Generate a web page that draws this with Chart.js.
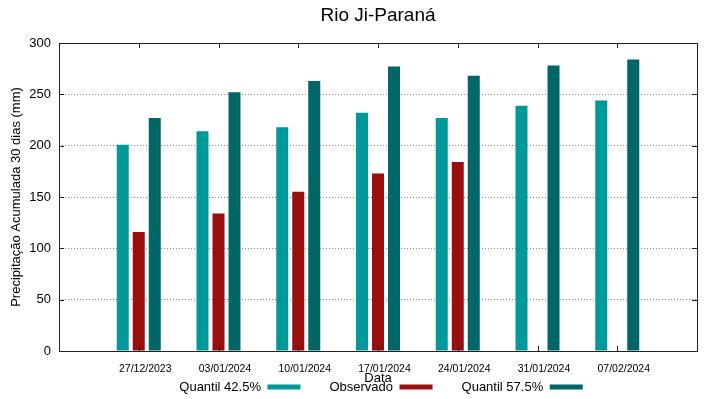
<!DOCTYPE html>
<html>
<head>
<meta charset="utf-8">
<script src="https://cdn.jsdelivr.net/npm/chart.js@4"></script>
<style>
  body { margin: 0; background: #fff; }
</style>
</head>
<body>
<canvas id="myChart" width="719" height="399"></canvas>
<script>
var dates = ["27/12/2023", "03/01/2024", "10/01/2024", "17/01/2024", "24/01/2024", "31/01/2024", "07/02/2024"];
var quantil425 = [201, 214, 218, 232, 227, 239, 244];
var observado = [116, 134, 155, 173, 184, null, null];
var quantil575 = [227, 252, 263, 277, 268, 278, 284];
var yTicks = [0, 50, 100, 150, 200, 250, 300];

// gnuplot style x axis: one empty slot on each side
var labels = [""].concat(dates, [""]);
function pad(arr) { return [null].concat(arr, [null]); }

Chart.defaults.font.family = "'Liberation Sans', Arial, sans-serif";
Chart.defaults.color = "#000";

// box around the plot + inward ticks, and legend centred over the plot
var framePlugin = {
  id: "frame",
  afterLayout: function (chart) {
    var lg = chart.legend, a = chart.chartArea;
    lg.left = a.left + 3; lg.right = a.right + 3; lg.width = a.right - a.left;
    lg.bottom = 351.5 + lg.height; lg.top = 351.5;
  },
  afterDatasetsDraw: function (chart) {
    var ctx = chart.ctx, a = chart.chartArea;
    var xs = chart.scales.x, ys = chart.scales.y;
    ctx.save();
    ctx.strokeStyle = "#222";
    ctx.lineWidth = 1;
    ctx.beginPath();
    for (var i = 1; i <= dates.length; i++) {
      var x = Math.round(xs.getPixelForValue(i)) + 0.5;
      ctx.moveTo(x, a.top); ctx.lineTo(x, a.top + 5);
      ctx.moveTo(x, a.bottom); ctx.lineTo(x, a.bottom - 5);
    }
    yTicks.forEach(function (v) {
      var y = Math.round(ys.getPixelForValue(v)) + 0.5;
      ctx.moveTo(a.left, y); ctx.lineTo(a.left + 5, y);
      ctx.moveTo(a.right, y); ctx.lineTo(a.right - 5, y);
    });
    ctx.stroke();
    ctx.strokeRect(Math.round(a.left) + 0.5, Math.round(a.top) + 0.5,
      Math.round(a.right - a.left), Math.round(a.bottom - a.top));
    ctx.restore();
  }
};

new Chart("myChart", {
  type: "bar",
  data: {
    labels: labels,
    datasets: [{
      label: "Quantil 42.5%",
      data: pad(quantil425),
      backgroundColor: "#009999",
      borderWidth: 0
    }, {
      label: "Observado",
      data: pad(observado),
      backgroundColor: "#990f0f",
      borderWidth: 0
    }, {
      label: "Quantil 57.5%",
      data: pad(quantil575),
      backgroundColor: "#006666",
      borderWidth: 0
    }]
  },
  plugins: [framePlugin],
  options: {
    responsive: false,
    animation: false,
    categoryPercentage: 0.602,
    barPercentage: 0.75,
    layout: { padding: { left: 9, right: 22, top: 0, bottom: -39 } },
    plugins: {
      title: {
        display: true,
        text: "Rio Ji-Paraná",
        fullSize: false,
        color: "#000",
        font: { size: 19, weight: "normal" },
        padding: { top: 4, bottom: 16.2 }
      },
      legend: {
        position: "bottom",
        rtl: true,
        reverse: true,
        textDirection: "ltr",
        labels: {
          boxWidth: 33,
          boxHeight: 5,
          padding: 29,
          color: "#000",
          font: { size: 13 }
        }
      },
      tooltip: { enabled: false }
    },
    scales: {
      x: {
        offset: false,
        grid: { display: false, drawTicks: false },
        border: { display: false },
        ticks: {
          autoSkip: false,
          maxRotation: 0,
          padding: 12,
          labelOffset: 6.5,
          color: "#000",
          font: { size: 10.5 }
        },
        title: {
          display: true,
          text: "Data",
          color: "#000",
          font: { size: 13 },
          padding: 0
        },
        afterFit: function (s) { s.height = 35; }
      },
      y: {
        min: 0,
        max: 300,
        grid: {
          drawTicks: false,
          color: function (c) {
            return (c.tick && (c.tick.value === 0 || c.tick.value === 300)) ? "rgba(0,0,0,0)" : "#888";
          }
        },
        border: { display: false, dash: [1, 2] },
        ticks: {
          stepSize: 50,
          padding: 8,
          color: "#000",
          font: { size: 13 }
        },
        title: {
          display: true,
          text: "Precipitação Acumulada 30 dias (mm)",
          color: "#000",
          font: { size: 13 },
          padding: 0
        },
        afterFit: function (s) { s.width = 50; }
      }
    }
  }
});
</script>
</body>
</html>
